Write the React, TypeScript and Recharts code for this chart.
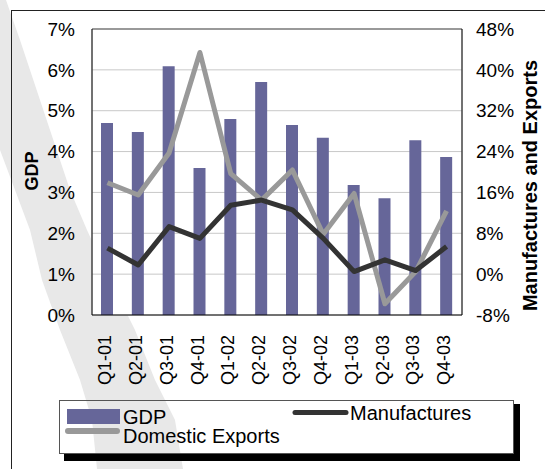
import React from 'react';
import { ComposedChart, Bar, Line, XAxis, YAxis, CartesianGrid, ReferenceLine, Label } from 'recharts';

const categories = ['Q1-01', 'Q2-01', 'Q3-01', 'Q4-01', 'Q1-02', 'Q2-02', 'Q3-02', 'Q4-02', 'Q1-03', 'Q2-03', 'Q3-03', 'Q4-03'];
const gdp = [4.7, 4.48, 6.09, 3.6, 4.8, 5.7, 4.65, 4.34, 3.18, 2.86, 4.28, 3.87];
const manufactures = [5.1, 1.8, 9.3, 7.0, 13.5, 14.5, 12.6, 7.0, 0.5, 2.8, 0.7, 5.4];
const domesticExports = [17.9, 15.5, 23.7, 43.4, 19.7, 14.5, 20.4, 7.8, 15.8, -5.8, 0.5, 12.4];
const gdpTicks = [0, 1, 2, 3, 4, 5, 6, 7];
const rightTicks = [-8, 0, 8, 16, 24, 32, 40, 48];
const boundaryTicks = categories.map((_, i) => i).concat(categories.length);

const data = categories.map((c, i) => ({
  cat: c,
  gdp: gdp[i],
  manufactures: manufactures[i],
  exports: domesticExports[i],
}));

const FONT = '"Liberation Sans", Arial, sans-serif';
const BAR_COLOR = '#666699';
const MAN_COLOR = '#333333';
const EXP_COLOR = '#999999';

const CatTick = (props: any) => {
  const { x, y, payload } = props;
  return (
    <text
      x={x}
      y={y}
      dy="0.2em"
      transform={`rotate(-90 ${x} ${y})`}
      textAnchor="end"
      fontSize={18}
      fontFamily={FONT}
      fill="#000"
    >
      {payload.value}
    </text>
  );
};

const swoosh = [
  [0, 0], [6, 0], [20, 40], [30, 70], [50, 130], [70, 190], [87, 230], [110, 280], [135, 330], [155, 380], [175, 420], [183, 469],
  [97, 469], [92, 420], [80, 380], [60, 330], [42, 280], [30, 230], [15, 190], [0, 150],
].map((p) => p.join(',')).join(' ');

export default function App() {
  return (
    <div style={{ position: 'absolute', left: 0, top: 0, width: 545, height: 469, background: '#fff', overflow: 'hidden' }}>
      <svg width={545} height={469} style={{ position: 'absolute', left: 0, top: 0 }}>
        <polygon points={swoosh} fill="#e8e8e8" />
        <rect x={11.5} y={10.5} width={600} height={600} fill="none" stroke="#222" strokeWidth={1} />
      </svg>
      <div style={{ position: 'absolute', left: 0, top: 0 }}>
        <ComposedChart width={545} height={469} data={data} margin={{ top: 29, right: 0, bottom: 0, left: 0 }}>
          <CartesianGrid xAxisId="grid" yAxisId="left" stroke="#c8c8c8" fill="#ffffff" strokeWidth={1} />
          <XAxis
            xAxisId="grid"
            type="number"
            domain={[0, categories.length]}
            ticks={boundaryTicks}
            allowDataOverflow
            height={0}
            tick={false}
            tickSize={4}
            tickLine={{ stroke: '#000' }}
            axisLine={false}
          />
          <XAxis
            xAxisId="cat"
            dataKey="cat"
            height={154}
            interval={0}
            tickLine={false}
            tickSize={0}
            tickMargin={20}
            axisLine={{ stroke: '#000' }}
            tick={<CatTick />}
          />
          <YAxis
            yAxisId="left"
            domain={[0, 7]}
            ticks={gdpTicks}
            width={92}
            tickLine={false}
            tickSize={8}
            tickMargin={9}
            axisLine={{ stroke: '#000' }}
            tickFormatter={(v: number) => `${v}%`}
            tick={{ fontSize: 19, fontFamily: FONT, fill: '#000' }}
          >
            <Label
              content={(p: any) => {
                const vb = p.viewBox;
                const x = vb.x + 38;
                const y = vb.y + vb.height / 2 - 1;
                return (
                  <text x={x} y={y} transform={`rotate(-90 ${x} ${y})`} textAnchor="middle" fontSize={18} fontWeight="bold" fontFamily={FONT} fill="#000">
                    GDP
                  </text>
                );
              }}
            />
          </YAxis>
          <YAxis
            yAxisId="right"
            orientation="right"
            domain={[-8, 48]}
            ticks={rightTicks}
            width={83}
            tickLine={false}
            tickSize={0}
            tickMargin={14}
            axisLine={{ stroke: '#000' }}
            tickFormatter={(v: number) => `${v}%`}
            tick={{ fontSize: 19, fontFamily: FONT, fill: '#000', textAnchor: 'start' }}
          >
            <Label
              content={(p: any) => {
                const vb = p.viewBox;
                const x = vb.x + 75;
                const y = vb.y + vb.height / 2 + 13.5;
                return (
                  <text x={x} y={y} transform={`rotate(-90 ${x} ${y})`} textAnchor="middle" fontSize={20} fontWeight="bold" fontFamily={FONT} fill="#000">
                    Manufactures and Exports
                  </text>
                );
              }}
            />
          </YAxis>
          <YAxis
            yAxisId="rticks"
            orientation="right"
            mirror
            domain={[-8, 48]}
            ticks={rightTicks}
            width={0}
            tick={false}
            tickSize={7}
            tickLine={{ stroke: '#000' }}
            axisLine={false}
          />
          <ReferenceLine yAxisId="left" xAxisId="cat" y={7} stroke="#808080" strokeWidth={1.5} />
          <Bar xAxisId="cat" yAxisId="left" dataKey="gdp" name="GDP" fill={BAR_COLOR} barSize={12} isAnimationActive={false} />
          <Line
            xAxisId="cat"
            yAxisId="right"
            dataKey="exports"
            name="Domestic Exports"
            type="linear"
            stroke={EXP_COLOR}
            strokeWidth={5}
            strokeLinejoin="round"
            dot={false}
            activeDot={false}
            isAnimationActive={false}
          />
          <Line
            xAxisId="cat"
            yAxisId="right"
            dataKey="manufactures"
            name="Manufactures"
            type="linear"
            stroke={MAN_COLOR}
            strokeWidth={5}
            strokeLinejoin="round"
            dot={false}
            activeDot={false}
            isAnimationActive={false}
          />
        </ComposedChart>
      </div>
      <svg width={545} height={469} style={{ position: 'absolute', left: 0, top: 0, pointerEvents: 'none' }}>
        <rect x={64} y={454} width={456} height={7} fill="#000" />
        <rect x={514} y={404} width={6} height={57} fill="#000" />
        <rect x={59.5} y={400.5} width={454} height={53} fill="none" stroke="#555" strokeWidth={1} />
        <rect x={67} y={409} width={53} height={15} fill={BAR_COLOR} />
        <text x={123} y={424} fontSize={20} fontFamily={FONT} fill="#000">GDP</text>
        <line x1={68} y1={431} x2={117} y2={431} stroke={EXP_COLOR} strokeWidth={6} strokeLinecap="round" />
        <text x={123} y={442.5} fontSize={20} fontFamily={FONT} fill="#000">Domestic Exports</text>
        <line x1={295} y1={412.5} x2={346} y2={412.5} stroke={MAN_COLOR} strokeWidth={5} strokeLinecap="round" />
        <text x={350} y={419.5} fontSize={20} fontFamily={FONT} fill="#000">Manufactures</text>
      </svg>
    </div>
  );
}
